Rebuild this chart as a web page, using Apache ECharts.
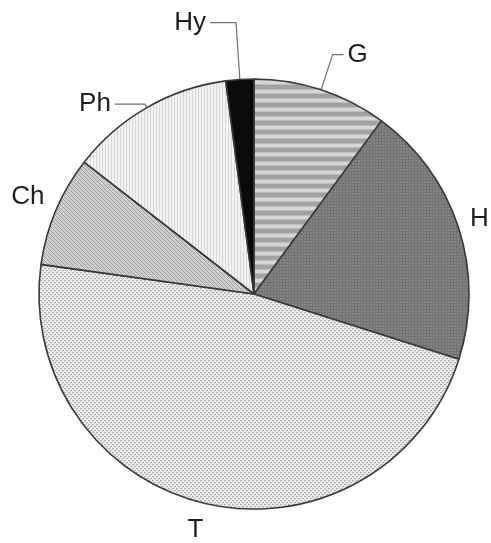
<!DOCTYPE html>
<html><head><meta charset="utf-8">
<script src="https://cdn.jsdelivr.net/npm/echarts@6/dist/echarts.min.js"></script>
<style>html,body{margin:0;padding:0;background:#fff}#c{width:491px;height:543px}</style>
</head><body><div id="c"></div>
<script>
const categories = ['G', 'H', 'T', 'Ch', 'Ph', 'Hy'];
const values = [10.1, 19.8, 47.3, 8.3, 12.4, 2.1];

function pattern(w, h, draw) {
  const c = document.createElement('canvas');
  c.width = w; c.height = h;
  const g = c.getContext('2d');
  draw(g);
  return { image: c, repeat: 'repeat' };
}
const fills = {
  G: pattern(4, 9, g => { g.fillStyle = '#a2a2a2'; g.fillRect(0,0,4,9); g.fillStyle = '#d6d6d6'; g.fillRect(0,0,4,3); g.fillStyle='#bdbdbd'; g.fillRect(0,3,4,1); g.fillRect(0,8,4,1); }),
  H: pattern(3, 3, g => { g.fillStyle = '#848484'; g.fillRect(0,0,3,3); g.fillStyle = '#727272'; g.fillRect(0,0,3,1); g.fillRect(0,0,1,3); }),
  T: pattern(4, 4, g => { g.fillStyle = '#ececec'; g.fillRect(0,0,4,4); g.fillStyle = '#b0b0b0'; g.fillRect(0,0,2,1); g.fillRect(2,2,2,1); g.fillStyle='#cfcfcf'; g.fillRect(0,1,1,1); g.fillRect(2,3,1,1); }),
  Ch: pattern(4, 4, g => { g.fillStyle = '#d4d4d4'; g.fillRect(0,0,4,4); g.fillStyle = '#9c9c9c'; g.fillRect(0,0,1,1); g.fillRect(2,2,1,1); g.fillRect(1,1,1,1); g.fillRect(3,3,1,1); g.fillStyle='#b8b8b8'; g.fillRect(2,0,1,1); g.fillRect(0,2,1,1); }),
  Ph: pattern(3, 4, g => { g.fillStyle = '#f3f3f3'; g.fillRect(0,0,3,4); g.fillStyle = '#d9d9d9'; g.fillRect(0,0,1,4); }),
  Hy: '#0a0a0a'
};
const lines = {
  G: { show: true, length: 37, length2: 11 },
  H: { show: false, length: 8, length2: 0 },
  T: { show: false, length: 27, length2: 0 },
  Ch: { show: false, length: 8, length2: 0 },
  Ph: { show: true, length: 4, length2: 30 },
  Hy: { show: true, length: 57, length2: 26 }
};
const labelShift = { G: [0, 0], H: [0, -6], T: [7, 0], Ch: [0, -11], Ph: [0, 0], Hy: [0, 0] };

const chart = echarts.init(document.getElementById('c'));
chart.setOption({
  animation: false,
  backgroundColor: '#fff',
  series: [{
    type: 'pie',
    center: [254, 294],
    radius: 215,
    startAngle: 90,
    clockwise: true,
    avoidLabelOverlap: false,
    itemStyle: { borderColor: '#383838', borderWidth: 1.6 },
    label: { show: true, position: 'outside', formatter: '{b}', color: '#1e1e1e', fontSize: 26, fontFamily: 'Liberation Sans, Arial, sans-serif', distanceToLabelLine: 4 },
    labelLine: { lineStyle: { color: '#7a6e66', width: 1.2 }, smooth: false },
    labelLayout: p => {
      const s = labelShift[categories[p.dataIndex]];
      return { dx: s[0], dy: s[1] };
    },
    emphasis: { disabled: true },
    data: categories.map((n, i) => ({
      name: n, value: values[i],
      itemStyle: { color: fills[n] },
      labelLine: lines[n]
    }))
  }]
});
</script></body></html>
